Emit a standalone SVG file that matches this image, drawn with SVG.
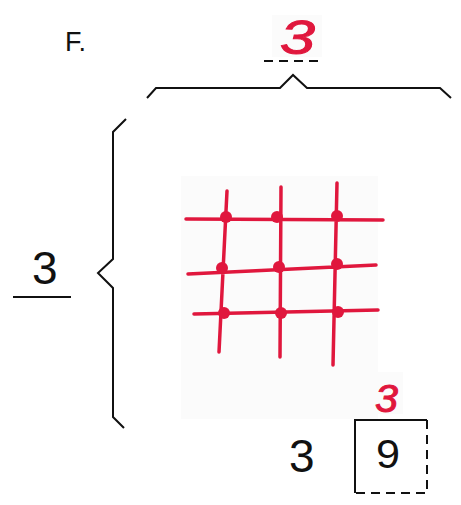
<svg xmlns="http://www.w3.org/2000/svg" width="461" height="505" viewBox="0 0 461 505">
<style>
.k{font-family:"Liberation Sans",Arial,sans-serif;fill:#111}
.r{font-family:"Liberation Sans",Arial,sans-serif;font-style:italic;fill:#e0173d;stroke:#e0173d;stroke-width:1}
.ln{stroke:#111;stroke-width:2;fill:none;stroke-linejoin:miter}
.g{stroke:#e0173d;stroke-width:3.5;stroke-linecap:round;fill:none}
.d{fill:#e0173d}
.bg{fill:#fbfbfb}
</style>
<rect width="461" height="505" fill="#fff"/>
<g id="label-F"><text class="k" x="65" y="51" font-size="27">F.</text></g>
<g id="top-count">
<rect class="bg" x="272" y="15" width="50" height="42"/>
<text class="r" x="280" y="54" font-size="48" textLength="35" lengthAdjust="spacingAndGlyphs">3</text>
<line class="ln" x1="264" y1="61" x2="324" y2="61" stroke-dasharray="9,6"/>
</g>
<g id="left-count">
<text class="k" x="32" y="284" font-size="46">3</text>
<line class="ln" x1="13" y1="297" x2="71" y2="297"/>
</g>
<g id="connectors">
<path class="ln" d="M147,98 L156,88 L280,88 L293,75 L307,88 L440,88 L451,98"/>
<path class="ln" d="M126,119 L113,132 L113,259 L98,273 L113,288 L113,417 L124,428"/>
</g>
<g id="grid">
<rect class="bg" x="181" y="176" width="197" height="243"/>
<path class="g" d="M186,219 L383,220 M188,274 L376,265 M194,314 L378,310 M227,191 L219,352 M281,187 L280,357 M337,183 L333,365"/>
<circle class="d" cx="226" cy="217" r="6"/>
<circle class="d" cx="277" cy="217" r="6"/>
<circle class="d" cx="337" cy="216" r="6"/>
<circle class="d" cx="222" cy="268" r="6"/>
<circle class="d" cx="279" cy="267" r="6"/>
<circle class="d" cx="337" cy="264" r="6"/>
<circle class="d" cx="224" cy="313" r="6"/>
<circle class="d" cx="281" cy="313" r="6"/>
<circle class="d" cx="338" cy="312" r="6"/>
</g>
<g id="division">
<rect class="bg" x="330" y="372" width="73" height="42"/>
<text class="r" x="375" y="412" font-size="38" textLength="23" lengthAdjust="spacingAndGlyphs">3</text>
<text class="k" x="289" y="472" font-size="46">3</text>
<text class="k" x="376" y="468" font-size="40" textLength="24" lengthAdjust="spacingAndGlyphs">9</text>
<path class="ln" d="M355,493 L355,420 L427,420"/>
<path class="ln" d="M427,420 L427,493 L355,493" stroke-dasharray="9,6"/>
</g>
</svg>
